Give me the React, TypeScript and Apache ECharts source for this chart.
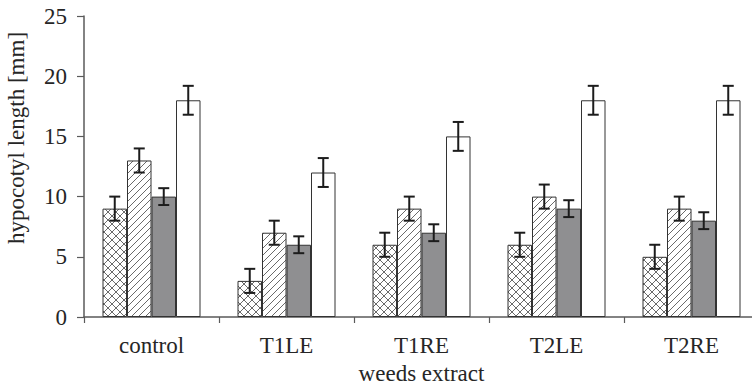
import React, { useEffect, useRef } from 'react';
import * as echarts from 'echarts';

const categories = ['control', 'T1LE', 'T1RE', 'T2LE', 'T2RE'];
const crossValues = [9, 3, 6, 6, 5];
const crossErrors = [1, 1, 1, 1, 1];
const hatchValues = [13, 7, 9, 10, 9];
const hatchErrors = [1, 1, 1, 1, 1];
const greyValues = [10, 6, 7, 9, 8];
const greyErrors = [0.7, 0.7, 0.7, 0.7, 0.7];
const whiteValues = [18, 12, 15, 18, 18];
const whiteErrors = [1.2, 1.2, 1.2, 1.2, 1.2];
const yTicks = [0, 5, 10, 15, 20, 25];
const xAxisTitle = 'weeds extract';
const yAxisTitle = 'hypocotyl length [mm]';

const FONT = 'Liberation Serif';
const FONT_SIZE = 23;
const TEXT_COLOR = '#262626';
const BAR_WIDTH = 24.5;

function makeTile(size: number, draw: (ctx: CanvasRenderingContext2D, s: number) => void) {
  const c = document.createElement('canvas');
  c.width = size;
  c.height = size;
  const ctx = c.getContext('2d')!;
  ctx.fillStyle = '#ffffff';
  ctx.fillRect(0, 0, size, size);
  ctx.strokeStyle = '#6a6a6a';
  ctx.lineWidth = 1;
  draw(ctx, size);
  return c;
}

export default function App() {
  const ref = useRef<HTMLDivElement>(null);

  useEffect(() => {
    if (!ref.current) return;
    const chart = echarts.init(ref.current, undefined, { renderer: 'svg' });

    const crossTile = makeTile(8, (ctx, s) => {
      ctx.beginPath();
      ctx.moveTo(0, 0);
      ctx.lineTo(s, s);
      ctx.moveTo(0, s);
      ctx.lineTo(s, 0);
      ctx.stroke();
    });
    const hatchTile = makeTile(7, (ctx, s) => {
      ctx.beginPath();
      ctx.moveTo(0, s);
      ctx.lineTo(s, 0);
      ctx.moveTo(-1, 1);
      ctx.lineTo(1, -1);
      ctx.moveTo(s - 1, s + 1);
      ctx.lineTo(s + 1, s - 1);
      ctx.stroke();
    });

    const seriesDefs = [
      { name: 'cross', values: crossValues, errors: crossErrors, fill: { image: crossTile, repeat: 'repeat', imageWidth: 8, imageHeight: 8 } },
      { name: 'hatch', values: hatchValues, errors: hatchErrors, fill: { image: hatchTile, repeat: 'repeat', imageWidth: 7, imageHeight: 7 } },
      { name: 'grey', values: greyValues, errors: greyErrors, fill: '#8f8f91' },
      { name: 'white', values: whiteValues, errors: whiteErrors, fill: '#ffffff' },
    ];
    const n = seriesDefs.length;

    const barSeries = seriesDefs.map((d) => ({
      type: 'bar',
      name: d.name,
      data: d.values,
      barWidth: BAR_WIDTH,
      barGap: '0%',
      itemStyle: { color: d.fill as any, borderColor: '#333333', borderWidth: 1 },
      z: 2,
    }));

    const errorSeries = seriesDefs.map((d, k) => ({
      type: 'custom',
      name: d.name + '-err',
      data: d.values.map((v, i) => [i, v, d.errors[i]]),
      encode: { x: 0, y: 1 },
      z: 5,
      renderItem: (params: any, api: any) => {
        const ci = api.value(0);
        const v = api.value(1);
        const e = api.value(2);
        const c = api.coord([ci, v]);
        const x = c[0] + (k - (n - 1) / 2) * BAR_WIDTH;
        const yTop = api.coord([ci, v + e])[1];
        const yBot = api.coord([ci, v - e])[1];
        const hw = 5.5;
        const style = { stroke: '#1c1c1c', lineWidth: 2 };
        return {
          type: 'group',
          children: [
            { type: 'line', shape: { x1: x, y1: yTop, x2: x, y2: yBot }, style },
            { type: 'line', shape: { x1: x - hw, y1: yTop, x2: x + hw, y2: yTop }, style },
            { type: 'line', shape: { x1: x - hw, y1: yBot, x2: x + hw, y2: yBot }, style },
          ],
        };
      },
    }));

    const option: any = {
      animation: false,
      backgroundColor: '#ffffff',
      grid: {
        left: 84,
        top: 16,
        width: 675,
        height: 301,
        containLabel: false,
        outerBoundsMode: 'none',
      },
      xAxis: {
        type: 'category',
        data: categories,
        boundaryGap: true,
        name: xAxisTitle,
        nameLocation: 'middle',
        nameGap: 44,
        nameTextStyle: { fontFamily: FONT, fontSize: FONT_SIZE, color: TEXT_COLOR },
        axisLine: { show: true, lineStyle: { color: '#5a5a5a', width: 1.5 } },
        axisTick: { show: true, length: 6, inside: false, lineStyle: { color: '#5a5a5a', width: 1.2 } },
        axisLabel: { margin: 17, fontFamily: FONT, fontSize: FONT_SIZE, color: TEXT_COLOR },
        splitLine: { show: false },
      },
      yAxis: {
        type: 'value',
        min: yTicks[0],
        max: yTicks[yTicks.length - 1],
        interval: yTicks[1] - yTicks[0],
        axisLine: { show: true, lineStyle: { color: '#5a5a5a', width: 1.5 } },
        axisTick: { show: true, length: 7, inside: false, lineStyle: { color: '#5a5a5a', width: 1.2 } },
        axisLabel: { margin: 17, fontFamily: FONT, fontSize: FONT_SIZE, color: TEXT_COLOR },
        splitLine: { show: false },
      },
      graphic: [
        {
          type: 'text',
          x: 16,
          y: 138,
          rotation: Math.PI / 2,
          style: {
            text: yAxisTitle,
            fontFamily: FONT,
            fontSize: FONT_SIZE,
            fill: TEXT_COLOR,
            textAlign: 'center',
            textVerticalAlign: 'middle',
          },
        },
      ],
      series: [...barSeries, ...errorSeries],
    };

    chart.setOption(option);
    return () => chart.dispose();
  }, []);

  return (
    <div
      ref={ref}
      style={{ position: 'fixed', left: 0, top: 0, width: 752, height: 387, background: '#fff' }}
    />
  );
}
